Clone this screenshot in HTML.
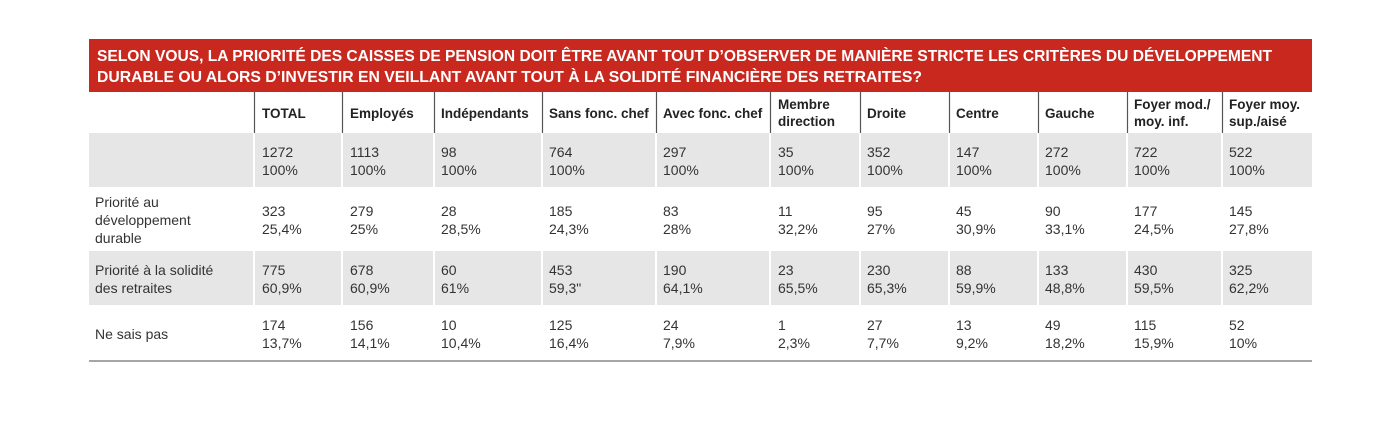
<!DOCTYPE html><html><head><meta charset="utf-8"><style>body{margin:0;background:#fff}svg{display:block}</style></head><body>
<svg width="1400" height="443" xmlns="http://www.w3.org/2000/svg" font-family="Liberation Sans, sans-serif">
<rect x="89" y="39" width="1223" height="53" fill="#c9281f"/>
<text x="97" y="61" font-size="16" font-weight="bold" fill="#fff" textLength="1175" lengthAdjust="spacingAndGlyphs">SELON VOUS, LA PRIORITÉ DES CAISSES DE PENSION DOIT ÊTRE AVANT TOUT D’OBSERVER DE MANIÈRE STRICTE LES CRITÈRES DU DÉVELOPPEMENT</text>
<text x="97" y="82" font-size="16" font-weight="bold" fill="#fff" textLength="825" lengthAdjust="spacingAndGlyphs">DURABLE OU ALORS D’INVESTIR EN VEILLANT AVANT TOUT À LA SOLIDITÉ FINANCIÈRE DES RETRAITES?</text>
<rect x="89" y="133" width="1223" height="55" fill="#e6e6e6"/>
<rect x="89" y="250" width="1223" height="56" fill="#e6e6e6"/>
<g stroke="#fff" stroke-width="2">
<line x1="254" y1="188" x2="254" y2="360"/><line x1="342" y1="133" x2="342" y2="360"/><line x1="434" y1="133" x2="434" y2="360"/><line x1="542" y1="133" x2="542" y2="360"/><line x1="656" y1="133" x2="656" y2="360"/><line x1="770" y1="133" x2="770" y2="360"/><line x1="860" y1="133" x2="860" y2="360"/><line x1="949" y1="133" x2="949" y2="360"/><line x1="1038" y1="133" x2="1038" y2="360"/><line x1="1127" y1="133" x2="1127" y2="360"/><line x1="1222" y1="133" x2="1222" y2="360"/><line x1="254" y1="133" x2="254" y2="188"/>
<line x1="89" y1="188" x2="1312" y2="188"/><line x1="89" y1="250" x2="1312" y2="250"/><line x1="89" y1="306" x2="1312" y2="306"/>
</g>
<g stroke="#555" stroke-width="1.2">
<line x1="254.5" y1="92" x2="254.5" y2="133"/><line x1="342.5" y1="92" x2="342.5" y2="133"/><line x1="434.5" y1="92" x2="434.5" y2="133"/><line x1="542.5" y1="92" x2="542.5" y2="133"/><line x1="656.5" y1="92" x2="656.5" y2="133"/><line x1="770.5" y1="92" x2="770.5" y2="133"/><line x1="860.5" y1="92" x2="860.5" y2="133"/><line x1="949.5" y1="92" x2="949.5" y2="133"/><line x1="1038.5" y1="92" x2="1038.5" y2="133"/><line x1="1127.5" y1="92" x2="1127.5" y2="133"/><line x1="1222.5" y1="92" x2="1222.5" y2="133"/>
</g>
<line x1="89" y1="361" x2="1312" y2="361" stroke="#888" stroke-width="1.5"/>
<g font-size="13.5" font-weight="bold" fill="#222">
<text x="262" y="118">TOTAL</text><text x="350" y="118">Employés</text><text x="441" y="118">Indépendants</text><text x="549" y="118">Sans fonc. chef</text><text x="663" y="118">Avec fonc. chef</text>
<text x="778" y="109">Membre</text><text x="778" y="126">direction</text><text x="867" y="118">Droite</text><text x="956" y="118">Centre</text><text x="1045" y="118">Gauche</text>
<text x="1134" y="109">Foyer mod./</text><text x="1134" y="126">moy. inf.</text><text x="1229" y="109">Foyer moy.</text><text x="1229" y="126">sup./aisé</text>
</g>
<g font-size="14" fill="#333">
<text x="95" y="207">Priorité au</text><text x="95" y="225">développement</text><text x="95" y="243">durable</text>
<text x="95" y="275">Priorité à la solidité</text><text x="95" y="293">des retraites</text>
<text x="95" y="339">Ne sais pas</text>
</g>
<g font-size="14" fill="#333" id="d">
<text y="157"><tspan x="262">1272</tspan><tspan x="350">1113</tspan><tspan x="441">98</tspan><tspan x="549">764</tspan><tspan x="663">297</tspan><tspan x="778">35</tspan><tspan x="867">352</tspan><tspan x="956">147</tspan><tspan x="1045">272</tspan><tspan x="1134">722</tspan><tspan x="1229">522</tspan></text>
<text y="175"><tspan x="262">100%</tspan><tspan x="350">100%</tspan><tspan x="441">100%</tspan><tspan x="549">100%</tspan><tspan x="663">100%</tspan><tspan x="778">100%</tspan><tspan x="867">100%</tspan><tspan x="956">100%</tspan><tspan x="1045">100%</tspan><tspan x="1134">100%</tspan><tspan x="1229">100%</tspan></text>
<text y="216"><tspan x="262">323</tspan><tspan x="350">279</tspan><tspan x="441">28</tspan><tspan x="549">185</tspan><tspan x="663">83</tspan><tspan x="778">11</tspan><tspan x="867">95</tspan><tspan x="956">45</tspan><tspan x="1045">90</tspan><tspan x="1134">177</tspan><tspan x="1229">145</tspan></text>
<text y="234"><tspan x="262">25,4%</tspan><tspan x="350">25%</tspan><tspan x="441">28,5%</tspan><tspan x="549">24,3%</tspan><tspan x="663">28%</tspan><tspan x="778">32,2%</tspan><tspan x="867">27%</tspan><tspan x="956">30,9%</tspan><tspan x="1045">33,1%</tspan><tspan x="1134">24,5%</tspan><tspan x="1229">27,8%</tspan></text>
<text y="275"><tspan x="262">775</tspan><tspan x="350">678</tspan><tspan x="441">60</tspan><tspan x="549">453</tspan><tspan x="663">190</tspan><tspan x="778">23</tspan><tspan x="867">230</tspan><tspan x="956">88</tspan><tspan x="1045">133</tspan><tspan x="1134">430</tspan><tspan x="1229">325</tspan></text>
<text y="293"><tspan x="262">60,9%</tspan><tspan x="350">60,9%</tspan><tspan x="441">61%</tspan><tspan x="549">59,3"</tspan><tspan x="663">64,1%</tspan><tspan x="778">65,5%</tspan><tspan x="867">65,3%</tspan><tspan x="956">59,9%</tspan><tspan x="1045">48,8%</tspan><tspan x="1134">59,5%</tspan><tspan x="1229">62,2%</tspan></text>
<text y="330"><tspan x="262">174</tspan><tspan x="350">156</tspan><tspan x="441">10</tspan><tspan x="549">125</tspan><tspan x="663">24</tspan><tspan x="778">1</tspan><tspan x="867">27</tspan><tspan x="956">13</tspan><tspan x="1045">49</tspan><tspan x="1134">115</tspan><tspan x="1229">52</tspan></text>
<text y="348"><tspan x="262">13,7%</tspan><tspan x="350">14,1%</tspan><tspan x="441">10,4%</tspan><tspan x="549">16,4%</tspan><tspan x="663">7,9%</tspan><tspan x="778">2,3%</tspan><tspan x="867">7,7%</tspan><tspan x="956">9,2%</tspan><tspan x="1045">18,2%</tspan><tspan x="1134">15,9%</tspan><tspan x="1229">10%</tspan></text>
</g>
</svg>
</body></html>
